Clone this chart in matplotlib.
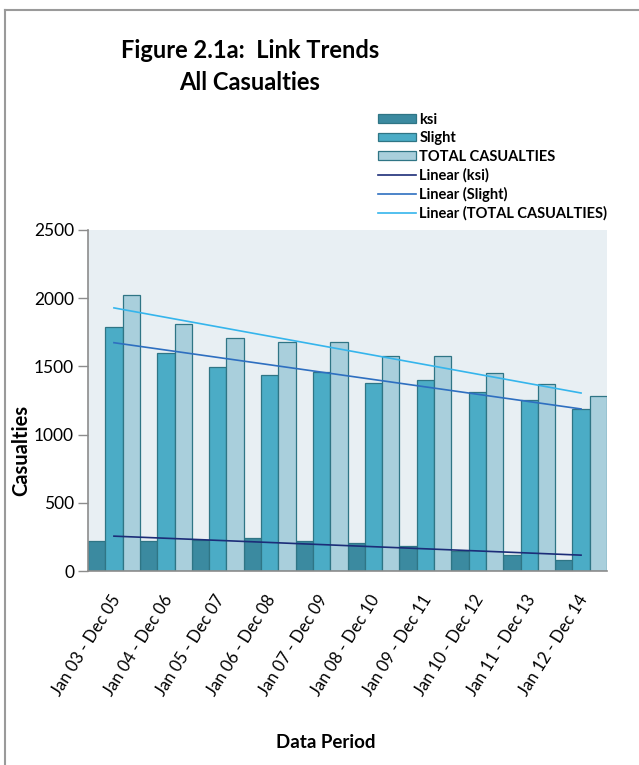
import numpy as np
import matplotlib
matplotlib.use("Agg")
import matplotlib.pyplot as plt
from matplotlib.lines import Line2D
from matplotlib.transforms import ScaledTranslation

plt.rcParams['font.family'] = ['Lato', 'DejaVu Sans']

periods = ["Jan 03 - Dec 05", "Jan 04 - Dec 06", "Jan 05 - Dec 07", "Jan 06 - Dec 08",
           "Jan 07 - Dec 09", "Jan 08 - Dec 10", "Jan 09 - Dec 11", "Jan 10 - Dec 12",
           "Jan 11 - Dec 13", "Jan 12 - Dec 14"]
ksi = [218, 220, 225, 245, 218, 206, 184, 145, 120, 78]
slight = [1789, 1598, 1493, 1439, 1460, 1375, 1400, 1309, 1255, 1191]
total = [2020, 1814, 1711, 1681, 1681, 1578, 1578, 1451, 1373, 1282]
y_ticks = [0, 500, 1000, 1500, 2000, 2500]

c_ksi = "#3b8aa0"
c_slight = "#4bacc6"
c_total = "#a9cfdc"
c_edge = "#2f7585"
t_ksi = "#1c2d78"
t_slight = "#2e6fc0"
t_total = "#35b5ec"

W, H = 639, 765
fig = plt.figure(figsize=(W / 100, H / 100), dpi=100)
fig.patch.set_facecolor("white")

ax = fig.add_axes([88 / W, 1 - 571 / H, (607 - 88) / W, (571 - 230) / H])
ax.set_facecolor("#e8eff3")

x = np.arange(len(periods))
bw = 1 / 3
ax.bar(x - bw, ksi, bw, color=c_ksi, edgecolor=c_edge, linewidth=0.9, label="ksi")
ax.bar(x, slight, bw, color=c_slight, edgecolor=c_edge, linewidth=0.9, label="Slight")
ax.bar(x + bw, total, bw, color=c_total, edgecolor=c_edge, linewidth=0.9, label="TOTAL CASUALTIES")

# least-squares trend lines across the periods
for series, col, name in [(ksi, t_ksi, "Linear (ksi)"),
                          (slight, t_slight, "Linear (Slight)"),
                          (total, t_total, "Linear (TOTAL CASUALTIES)")]:
    k, b = np.polyfit(x, series, 1)
    ax.plot(x, k * x + b, color=col, linewidth=1.2, label=name)

ax.set_xlim(-0.5, len(periods) - 0.5)
ax.set_ylim(0, 2500)
ax.set_yticks(y_ticks)
ax.set_yticklabels([str(v) for v in y_ticks], fontsize=12.5)
ax.tick_params(axis="y", length=7, width=1, color="#8c8c8c", pad=3)
ax.set_xticks(x)
ax.set_xticklabels(periods, rotation=58, ha="right", va="top", rotation_mode="anchor",
                   fontsize=12)
ax.tick_params(axis="x", length=0, pad=15)
shift = ScaledTranslation(-4 / 100, 0, fig.dpi_scale_trans)
for lbl in ax.get_xticklabels():
    lbl.set_transform(lbl.get_transform() + shift)
for s in ["top", "right"]:
    ax.spines[s].set_visible(False)
for s in ["left", "bottom"]:
    ax.spines[s].set_color("#8c8c8c")
    ax.spines[s].set_linewidth(1.2)

# legend
handles, labels = ax.get_legend_handles_labels()
order = [3, 4, 5, 0, 1, 2]
handles = [handles[i] for i in order]
labels = [labels[i] for i in order]
leg = fig.legend(handles, labels, loc="upper left", bbox_to_anchor=(372 / W, 1 - 107 / H),
                 frameon=False, prop={"size": 10.5, "weight": "bold"}, handlelength=2.6,
                 handleheight=0.5, handletextpad=0.25, labelspacing=0.3, borderaxespad=0)

fig.text(250 / W, 1 - 50 / H, "Figure 2.1a:  Link Trends", ha="center", va="center",
         fontsize=17, fontweight="bold")
fig.text(250 / W, 1 - 82 / H, "All Casualties", ha="center", va="center",
         fontsize=17, fontweight="bold")
fig.text(21 / W, 1 - 450 / H, "Casualties", rotation=90, ha="center", va="center",
         fontsize=14.5, fontweight="bold")
fig.text(326 / W, 1 - 742 / H, "Data Period", ha="center", va="center",
         fontsize=13.5, fontweight="bold")

# outer frame
fig.add_artist(Line2D([5 / W, 1], [1 - 10 / H, 1 - 10 / H], transform=fig.transFigure,
                      color="#9a9a9a", linewidth=1.5))
fig.add_artist(Line2D([5 / W, 5 / W], [0, 1 - 10 / H], transform=fig.transFigure,
                      color="#9a9a9a", linewidth=1.5))

fig.savefig("out.png", dpi=100)
